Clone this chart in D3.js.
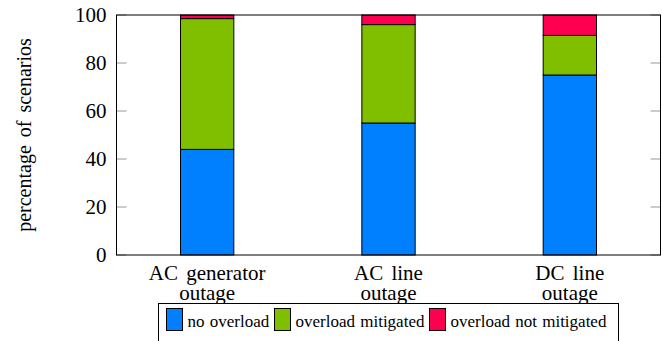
<!DOCTYPE html>
<html>
<head>
<script src='https://d3js.org/d3.v7.min.js'></script>
<style>
    body { margin: 0; background: white; }
    text { font-family: 'Liberation Serif', 'Times New Roman', serif; fill: black; }
</style>
</head>
<body onload='init()'>
<svg width=662 height=341></svg>
<script>
    var categories = ['AC generator\noutage', 'AC line\noutage', 'DC line\noutage'];
    var noOverload = [44, 55, 75];
    var overloadMitigated = [54.5, 41, 16.5];
    var overloadNotMitigated = [1.5, 4, 8.5];
    var seriesNames = ['no overload', 'overload mitigated', 'overload not mitigated'];
    var yTicks = [0, 20, 40, 60, 80, 100];

    function init() {
        var colors = ['#0080ff', '#80bf00', '#ff0050'];
        var left = 116.5, right = 660.5, top = 15, bottom = 255;

        var rows = categories.map(function (c, i) {
            return { cat: c, s0: noOverload[i], s1: overloadMitigated[i], s2: overloadNotMitigated[i] };
        });
        var stack = d3.stack().keys(['s0', 's1', 's2'])(rows);

        var xs = d3.scaleBand().domain(categories).range([left, right])
            .paddingInner(0.706).paddingOuter(0.353);
        var ys = d3.scaleLinear().domain([0, 100]).range([bottom, top]);

        var svg = d3.select('svg');

        // bars
        svg.append('g').selectAll('g').data(stack).enter().append('g')
            .attr('fill', function (d, i) { return colors[i]; })
            .selectAll('rect').data(function (d) { return d; }).enter().append('rect')
            .attr('x', function (d) { return xs(d.data.cat); })
            .attr('width', xs.bandwidth())
            .attr('y', function (d) { return ys(d[1]); })
            .attr('height', function (d) { return ys(d[0]) - ys(d[1]); })
            .attr('stroke', 'black')
            .attr('stroke-width', 1);

        // ticks inside left and right
        var ticks = svg.append('g');
        ticks.selectAll('line.l').data(yTicks).enter().append('line')
            .attr('x1', left).attr('x2', left + 10)
            .attr('y1', function (d) { return ys(d); })
            .attr('y2', function (d) { return ys(d); })
            .attr('stroke', '#999');
        ticks.selectAll('line.r').data(yTicks).enter().append('line')
            .attr('x1', right).attr('x2', right - 10)
            .attr('y1', function (d) { return ys(d); })
            .attr('y2', function (d) { return ys(d); })
            .attr('stroke', '#999');

        // frame
        svg.append('rect')
            .attr('x', left).attr('y', top)
            .attr('width', right - left).attr('height', bottom - top)
            .attr('fill', 'none').attr('stroke', 'black');

        // y tick labels
        svg.append('g').selectAll('text').data(yTicks).enter().append('text')
            .attr('x', left - 10)
            .attr('y', function (d) { return ys(d) + 7; })
            .attr('text-anchor', 'end')
            .style('font-size', '21px')
            .text(function (d) { return d; });

        // y title
        svg.append('text')
            .attr('transform', 'translate(31,' + ((top + bottom) / 2) + ') rotate(-90)')
            .attr('text-anchor', 'middle')
            .style('font-size', '20px')
            .style('word-spacing', '3px')
            .text('percentage of scenarios');

        // category labels
        svg.append('g').selectAll('text').data(categories).enter().append('text')
            .attr('text-anchor', 'middle')
            .style('font-size', '21px')
            .style('word-spacing', '3px')
            .each(function (d) {
                var cx = xs(d) + xs.bandwidth() / 2;
                d3.select(this).selectAll('tspan').data(d.split('\n')).enter().append('tspan')
                    .attr('x', cx)
                    .attr('y', function (t, i) { return 280 + i * 20; })
                    .text(function (t) { return t; });
            });

        // legend
        var lg = svg.append('g');
        lg.append('rect')
            .attr('x', 158.5).attr('y', 303.5)
            .attr('width', 460).attr('height', 50)
            .attr('fill', 'white').attr('stroke', 'black');
        var legendX = [166.5, 274.5, 429.5];
        seriesNames.forEach(function (name, i) {
            lg.append('rect')
                .attr('x', legendX[i]).attr('y', 308.5)
                .attr('width', 16).attr('height', 22)
                .attr('fill', colors[i]).attr('stroke', 'black');
            lg.append('text')
                .attr('x', legendX[i] + 21).attr('y', 327)
                .style('font-size', '17px')
                .style('word-spacing', '1px')
                .text(name);
        });
    }
</script>
</body>
</html>
